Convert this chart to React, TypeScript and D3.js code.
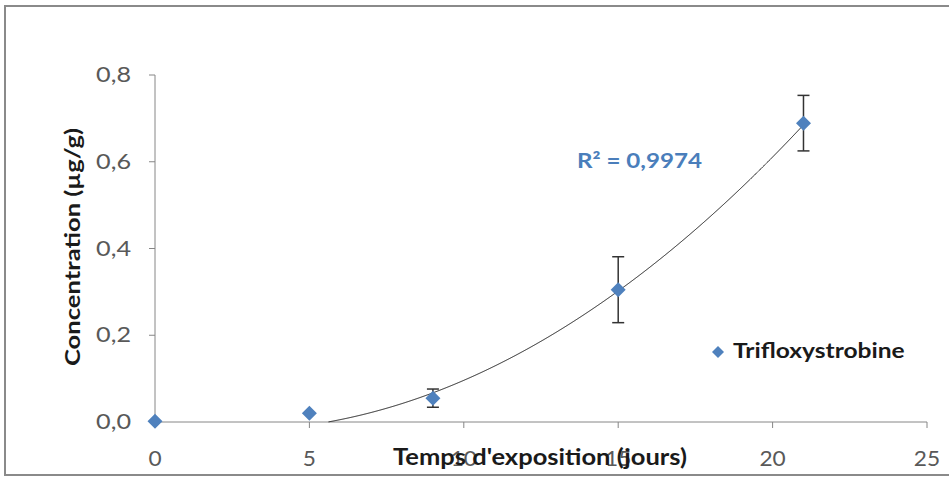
import React from "react";
import * as d3 from "d3";

// ---- data ----
const days = [0, 5, 9, 15, 21];
const concentration = [0.002, 0.02, 0.055, 0.305, 0.689];
const errorBars = [0, 0, 0.021, 0.076, 0.064];
const xTicks = [0, 5, 10, 15, 20, 25];
const yTicks = [0, 0.2, 0.4, 0.6, 0.8];
// polynomial (order 2) trendline coefficients: a*x^2 + b*x + c
const trendCoeffs = [0.0020588, -0.010284, -0.006974];
const seriesName = "Trifloxystrobine";
const r2Label = "R² = 0,9974";
const xTitle = "Temps d'exposition (jours)";
const yTitle = "Concentration (µg/g)";

const W = 949;
const H = 477;
const FONT = "Lato, 'Open Sans', sans-serif";
const BLUE = "#4A7EBB";
const MARKER = "#4F81BD";
const AXIS = "#868686";

function diamondPath(r: number) {
  const p = d3.path();
  p.moveTo(0, -r);
  p.lineTo(r, 0);
  p.lineTo(0, r);
  p.lineTo(-r, 0);
  p.closePath();
  return p.toString();
}

type TProps = {
  x: number;
  y: number;
  sx?: number;
  rotate?: number;
  anchor?: "start" | "middle" | "end";
  size: number;
  bold?: boolean;
  fill: string;
  children: React.ReactNode;
};

function T({ x, y, sx = 1, rotate = 0, anchor = "start", size, bold, fill, children }: TProps) {
  return (
    <text
      transform={`translate(${x},${y}) rotate(${rotate}) scale(${sx},1)`}
      textAnchor={anchor}
      fontSize={size}
      fontWeight={bold ? "bold" : "normal"}
      fill={fill}
    >
      {children}
    </text>
  );
}

export default function App() {
  const x = d3.scaleLinear().domain([0, 25]).range([155, 927]);
  const y = d3.scaleLinear().domain([0, 0.8]).range([422, 75]);
  const fmt = (v: number) => v.toFixed(1).replace(".", ",");

  const [a, b, c] = trendCoeffs;
  const samples = d3.range(0, 21.0001, 0.02).map((t) => ({ t, v: a * t * t + b * t + c }));
  const trend = d3
    .line<{ t: number; v: number }>()
    .defined((d) => d.v >= 0)
    .x((d) => x(d.t))
    .y((d) => y(d.v))(samples);

  const marker = diamondPath(7.5);
  const legendMarker = diamondPath(6);

  return (
    <svg
      width={W}
      height={H}
      style={{ position: "absolute", left: 0, top: 0, background: "#fff" }}
      fontFamily={FONT}
    >
      <rect x={0} y={0} width={W} height={H} fill="#fff" />
      {/* chart frame */}
      <rect x={5} y={6} width={980} height={469} fill="none" stroke="#8a8a8a" strokeWidth={2} />

      {/* y axis */}
      <line x1={x(0)} x2={x(0)} y1={y(0.8)} y2={y(0)} stroke={AXIS} strokeWidth={1} />
      {yTicks.map((t) => (
        <g key={"y" + t}>
          <line x1={x(0) - 6} x2={x(0)} y1={y(t)} y2={y(t)} stroke={AXIS} strokeWidth={1} />
          <T x={131} y={y(t) + 7} anchor="end" size={21} sx={1.2} fill="#595959">
            {fmt(t)}
          </T>
        </g>
      ))}

      {/* x axis */}
      <line x1={x(0)} x2={x(25)} y1={y(0)} y2={y(0)} stroke={AXIS} strokeWidth={1} />
      {xTicks.map((t) => (
        <g key={"x" + t}>
          <line x1={x(t)} x2={x(t)} y1={y(0)} y2={y(0) + 6} stroke={AXIS} strokeWidth={1} />
          <T x={x(t)} y={466} anchor="middle" size={21} sx={1.08} fill="#595959">
            {t}
          </T>
        </g>
      ))}

      {/* axis titles */}
      <T x={540} y={465} anchor="middle" size={22} sx={1.16} bold fill="#1a1a1a">
        {xTitle}
      </T>
      <T x={80} y={247} rotate={-90} anchor="middle" size={21} sx={1.22} bold fill="#1a1a1a">
        {yTitle}
      </T>

      {/* trendline */}
      <path d={trend ?? ""} fill="none" stroke="#1a1a1a" strokeWidth={1} />

      {/* error bars */}
      {days.map((d, i) =>
        errorBars[i] > 0 ? (
          <g key={"e" + i} stroke="#333" strokeWidth={1.5}>
            <line x1={x(d)} x2={x(d)} y1={y(concentration[i] - errorBars[i])} y2={y(concentration[i] + errorBars[i])} />
            <line x1={x(d) - 6} x2={x(d) + 6} y1={y(concentration[i] - errorBars[i])} y2={y(concentration[i] - errorBars[i])} />
            <line x1={x(d) - 6} x2={x(d) + 6} y1={y(concentration[i] + errorBars[i])} y2={y(concentration[i] + errorBars[i])} />
          </g>
        ) : null
      )}

      {/* markers */}
      {days.map((d, i) => (
        <path key={"m" + i} d={marker} transform={`translate(${x(d)},${y(concentration[i])})`} fill={MARKER} />
      ))}

      {/* R² label */}
      <T x={577} y={168} size={21} sx={1.15} bold fill={BLUE}>
        {r2Label}
      </T>

      {/* legend */}
      <path d={legendMarker} transform="translate(718,352)" fill={MARKER} />
      <T x={733} y={358} size={21} sx={1.17} bold fill="#1a1a1a">
        {seriesName}
      </T>
    </svg>
  );
}
